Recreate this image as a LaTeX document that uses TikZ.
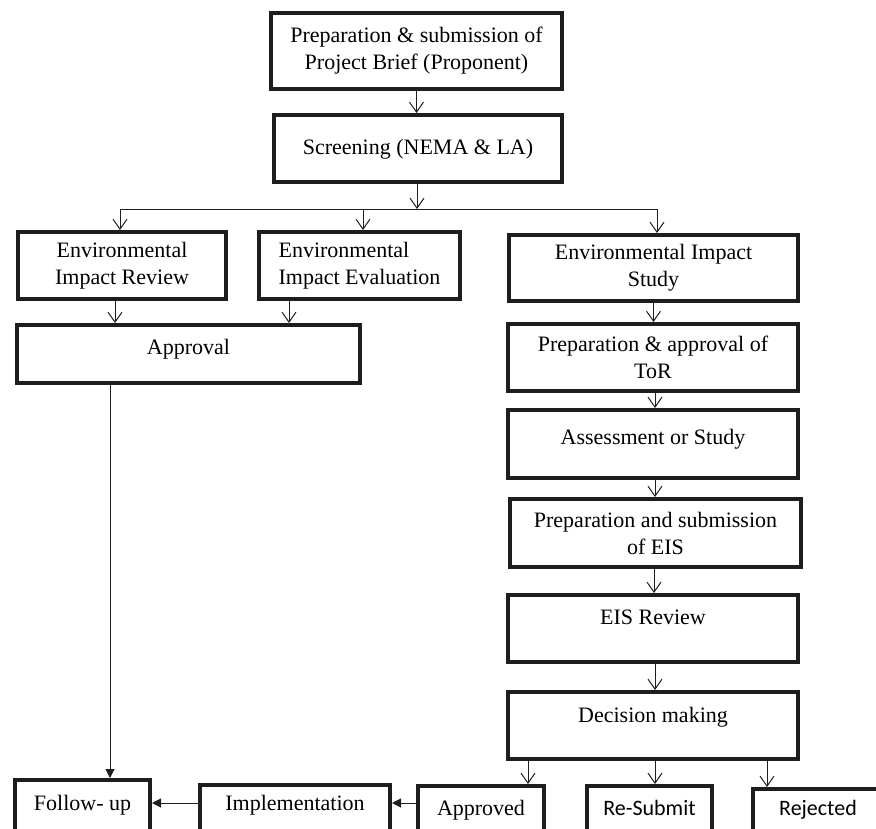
\documentclass[tikz,border=0pt]{standalone}
\usepackage{fontspec}
\setmainfont{Liberation Serif}
\newfontfamily\calibrifont{Carlito}
\usepackage{tikz}
\usetikzlibrary{arrows.meta}
\usepackage{xcolor}
\definecolor{boxline}{RGB}{30,30,30}

\begin{document}
\begin{tikzpicture}[
  x=1pt, y=-1pt,
  box/.style={rectangle, draw=boxline, line width=3.6pt, align=center, inner sep=0pt, font=\fontsize{22}{27}\selectfont},
  sansbox/.style={box, font=\calibrifont\fontsize{22}{26}\selectfont},
  arr/.style={draw=boxline, -{Straight Barb[length=10pt,width=14pt]}, line width=1pt},
  farr/.style={draw=boxline, -{Triangle[length=9pt,width=9pt]}, line width=1pt}
]
\useasboundingbox (0,0) rectangle (876,828);
\clip (0,0) rectangle (876,828);

\node[box, minimum width=291.4pt, minimum height=76.4pt] (brief) at (416.5,51) {Preparation \& submission of\\Project Brief (Proponent)};
\node[box, minimum width=288.4pt, minimum height=67.4pt, text height=15pt, text depth=3pt] (screen) at (418,148.5) {Screening (NEMA \& LA)};

\node[box, minimum width=208.4pt, minimum height=67.4pt] (eir) at (122,265.5) {Environmental\\Impact Review};
\node[box, align=left, minimum width=201.4pt, minimum height=67.4pt] (eie) at (359.5,265.5) {Environmental\\Impact Evaluation};
\node[box, minimum width=289.4pt, minimum height=66.4pt] (eis) at (653.5,268) {Environmental Impact\\Study};

\node[box, minimum width=343.4pt, minimum height=58.4pt, text height=15pt, text depth=15pt] (appr) at (188.5,354) {Approval};

\node[box, minimum width=290.4pt, minimum height=67.4pt] (tor) at (653,357.5) {Preparation \& approval of\\ToR};
\node[box, minimum width=290.4pt, minimum height=68.4pt, text height=15pt, text depth=15pt] (assess) at (653,444) {Assessment or Study};
\node[box, minimum width=291.4pt, minimum height=68.4pt] (prepeis) at (655.5,533) {Preparation and submission\\of EIS};
\node[box, minimum width=290.4pt, minimum height=67.4pt, text height=15pt, text depth=23pt] (review) at (653,628.5) {EIS Review};
\node[box, minimum width=290.4pt, minimum height=67.4pt, text height=15pt, text depth=21pt] (decide) at (653,725.5) {Decision making};

\node[box, minimum width=135.4pt, minimum height=76.4pt, text height=15pt, text depth=31pt] (followup) at (82.5,818) {Follow- up};
\node[box, minimum width=190.4pt, minimum height=76.4pt, text height=15pt, text depth=41pt] (impl) at (295,823) {Implementation};
\node[box, minimum width=126.4pt, minimum height=76.4pt, text height=15pt, text depth=33pt] (approved) at (481,824) {Approved};
\node[sansbox, minimum width=125.4pt, minimum height=76.4pt, text height=15pt, text depth=33pt] (resubmit) at (649.5,824) {Re-Submit};
\node[sansbox, minimum width=130.4pt, minimum height=76.4pt, text height=15pt, text depth=39pt] (rejected) at (818,827) {Rejected};

\coordinate (split) at (417,209);
\coordinate (splitL) at (120,209);
\coordinate (splitM) at (363,209);
\coordinate (splitR) at (657,209);
\coordinate (row) at (0,803);

\draw[arr] (brief.south) -- (brief.south |- screen.north);
\draw[arr] (screen.south -| split) -- (split);
\draw[draw=boxline, line width=1pt] (splitL) -- (splitR);
\draw[arr] (splitL) -- (splitL |- eir.north);
\draw[arr] (splitM) -- (splitM |- eie.north);
\draw[arr] (splitR) -- (splitR |- eis.north);

\draw[arr] ([xshift=-7pt]eir.south) -- ([xshift=-7pt]eir.south |- appr.north);
\draw[arr] ([xshift=-70.5pt]eie.south) -- ([xshift=-70.5pt]eie.south |- appr.north);

\draw[arr] (eis.south) -- (eis.south |- tor.north);
\draw[arr] ([xshift=2pt]tor.south) -- ([xshift=2pt]tor.south |- assess.north);
\draw[arr] ([xshift=2pt]assess.south) -- ([xshift=2pt]assess.south |- prepeis.north);
\draw[arr] ([xshift=-1.5pt]prepeis.south) -- ([xshift=-1.5pt]prepeis.south |- review.north);
\draw[arr] ([xshift=2pt]review.south) -- ([xshift=2pt]review.south |- decide.north);

\draw[arr] ([xshift=-125pt]decide.south) -- ([xshift=-125pt]decide.south |- approved.north);
\draw[arr] ([xshift=2pt]decide.south) -- ([xshift=2pt]decide.south |- resubmit.north);
\draw[arr] ([xshift=114pt]decide.south) -- ([xshift=114pt]decide.south |- rejected.north);

\draw[farr] ([xshift=-78.5pt]appr.south) -- ([xshift=-78.5pt]appr.south |- followup.north);
\draw[farr] (approved.west |- row) -- (impl.east |- row);
\draw[farr] (impl.west |- row) -- (followup.east |- row);
\end{tikzpicture}
\end{document}
